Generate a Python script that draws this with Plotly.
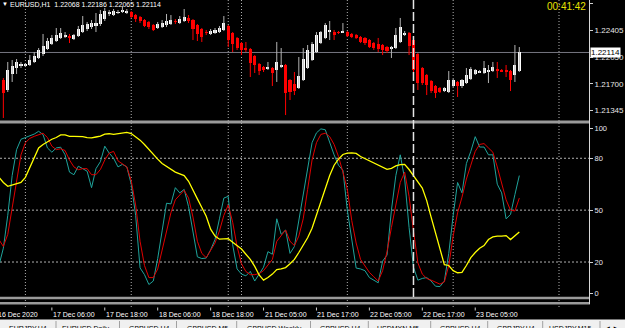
import plotly.graph_objects as go

W, H = 625, 328

# ---------------- data (H1 bars, index 0 = 17 Dec 2020 00:00, weekend skipped) ----------------
BAR_INDEX = list(range(-5, 113))
OPEN = [1.21749, 1.21617, 1.21829, 1.21908, 1.21935, 1.21935, 1.21948, 1.21988, 1.22041, 1.22094,
        1.22160, 1.22226, 1.22266, 1.22306, 1.22319, 1.22332, 1.22292, 1.22332, 1.22385, 1.22425,
        1.22451, 1.22465, 1.22491, 1.22557, 1.22624, 1.22610, 1.22637, 1.22650, 1.22637, 1.22650,
        1.22610, 1.22584, 1.22544, 1.22518, 1.22478, 1.22438, 1.22451, 1.22478, 1.22491, 1.22531,
        1.22504, 1.22531, 1.22571, 1.22544, 1.22478, 1.22425, 1.22385, 1.22359, 1.22372, 1.22385,
        1.22412, 1.22465, 1.22372, 1.22306, 1.22239, 1.22173, 1.22160, 1.22067, 1.21961, 1.21921,
        1.21895, 1.21908, 1.21882, 1.21921, 1.21948, 1.21749, 1.21696, 1.21643, 1.21749, 1.21908,
        1.22014, 1.22120, 1.22239, 1.22306, 1.22385, 1.22385, 1.22385, 1.22385, 1.22385, 1.22359,
        1.22345, 1.22319, 1.22306, 1.22279, 1.22239, 1.22226, 1.22213, 1.22186, 1.22160, 1.22173,
        1.22253, 1.22345, 1.22372, 1.22279, 1.22094, 1.21908, 1.21815, 1.21736, 1.21670, 1.21643,
        1.21603, 1.21590, 1.21670, 1.21723, 1.21670, 1.21709, 1.21762, 1.21829, 1.21855, 1.21842,
        1.21855, 1.21868, 1.21895, 1.21882, 1.21882, 1.21868, 1.21815, 1.21868]
HIGH = [1.21776, 1.21988, 1.22014, 1.22027, 1.21988, 1.21974, 1.22080, 1.22120, 1.22173, 1.22359,
        1.22306, 1.22345, 1.22438, 1.22438, 1.22385, 1.22359, 1.22359, 1.22465, 1.22597, 1.22518,
        1.22544, 1.22637, 1.22677, 1.22703, 1.22677, 1.22690, 1.22677, 1.22730, 1.22690, 1.22663,
        1.22624, 1.22597, 1.22557, 1.22531, 1.22491, 1.22518, 1.22544, 1.22624, 1.22610, 1.22557,
        1.22597, 1.22690, 1.22610, 1.22557, 1.22491, 1.22438, 1.22412, 1.22425, 1.22438, 1.22465,
        1.22597, 1.22478, 1.22385, 1.22319, 1.22253, 1.22253, 1.22173, 1.22080, 1.21974, 1.21935,
        1.21988, 1.21921, 1.22253, 1.22173, 1.21961, 1.21762, 1.21855, 1.22054, 1.22173, 1.22213,
        1.22253, 1.22385, 1.22398, 1.22504, 1.22531, 1.22412, 1.22398, 1.22504, 1.22398, 1.22372,
        1.22359, 1.22332, 1.22319, 1.22292, 1.22253, 1.22306, 1.22226, 1.22200, 1.22200, 1.22438,
        1.22571, 1.22398, 1.22385, 1.22319, 1.22107, 1.21921, 1.21829, 1.21749, 1.21683, 1.21656,
        1.21656, 1.21868, 1.21762, 1.21736, 1.21762, 1.21908, 1.21921, 1.21895, 1.21882, 1.22001,
        1.21948, 1.21988, 1.21988, 1.21895, 1.21948, 1.21882, 1.22213, 1.22186]
LOW = [1.21246, 1.21590, 1.21723, 1.21829, 1.21908, 1.21921, 1.21935, 1.21974, 1.22027, 1.22067,
       1.22147, 1.22213, 1.22253, 1.22292, 1.22306, 1.22239, 1.22279, 1.22319, 1.22372, 1.22398,
       1.22425, 1.22385, 1.22465, 1.22531, 1.22597, 1.22597, 1.22624, 1.22637, 1.22624, 1.22571,
       1.22518, 1.22504, 1.22451, 1.22425, 1.22398, 1.22425, 1.22438, 1.22451, 1.22478, 1.22491,
       1.22491, 1.22518, 1.22504, 1.22279, 1.22266, 1.22253, 1.22345, 1.22345, 1.22359, 1.22372,
       1.22398, 1.22186, 1.22120, 1.22147, 1.22080, 1.22120, 1.21789, 1.21842, 1.21815, 1.21855,
       1.21882, 1.21670, 1.21723, 1.21908, 1.21285, 1.21484, 1.21550, 1.21630, 1.21736, 1.21895,
       1.22001, 1.22107, 1.22226, 1.22292, 1.22279, 1.22279, 1.22359, 1.22372, 1.22319, 1.22306,
       1.22292, 1.22239, 1.22213, 1.22173, 1.22147, 1.22120, 1.22080, 1.22107, 1.22041, 1.22160,
       1.22239, 1.22332, 1.22080, 1.21815, 1.21617, 1.21683, 1.21550, 1.21577, 1.21511, 1.21577,
       1.21590, 1.21577, 1.21656, 1.21524, 1.21643, 1.21696, 1.21749, 1.21815, 1.21842, 1.21829,
       1.21709, 1.21855, 1.21776, 1.21855, 1.21789, 1.21603, 1.21723, 1.21855]
CLOSE = [1.21577, 1.21882, 1.21935, 1.21988, 1.21961, 1.21961, 1.22014, 1.22067, 1.22147, 1.22200,
         1.22266, 1.22306, 1.22345, 1.22372, 1.22345, 1.22306, 1.22345, 1.22425, 1.22478, 1.22491,
         1.22504, 1.22504, 1.22624, 1.22663, 1.22650, 1.22663, 1.22650, 1.22677, 1.22663, 1.22584,
         1.22557, 1.22531, 1.22465, 1.22451, 1.22412, 1.22491, 1.22504, 1.22531, 1.22544, 1.22518,
         1.22557, 1.22584, 1.22531, 1.22425, 1.22359, 1.22319, 1.22372, 1.22398, 1.22412, 1.22438,
         1.22504, 1.22279, 1.22226, 1.22173, 1.22147, 1.22147, 1.21974, 1.21948, 1.21868, 1.21882,
         1.21921, 1.21842, 1.21988, 1.21948, 1.21577, 1.21590, 1.21603, 1.21802, 1.22027, 1.22147,
         1.22226, 1.22345, 1.22385, 1.22478, 1.22412, 1.22345, 1.22372, 1.22398, 1.22332, 1.22319,
         1.22306, 1.22253, 1.22239, 1.22186, 1.22173, 1.22160, 1.22147, 1.22133, 1.22186, 1.22345,
         1.22451, 1.22372, 1.22200, 1.21882, 1.21709, 1.21709, 1.21683, 1.21603, 1.21577, 1.21590,
         1.21643, 1.21749, 1.21749, 1.21670, 1.21749, 1.21815, 1.21895, 1.21882, 1.21868, 1.21908,
         1.21882, 1.21921, 1.21868, 1.21868, 1.21868, 1.21749, 1.21948, 1.22114]

OSC_BARS = list(range(-6, 113))
STOCH_MAIN = [18, 28, 47, 70, 85, 91, 92, 93, 94, 95.6, 93.7, 86, 83.5, 86, 86.4, 82, 72, 70.5, 75.4, 74,
              72.5, 63, 74, 78, 87, 83, 80, 75, 76.5, 75, 65, 47, 16.6, 12.7, 7, 9, 22, 38, 54, 53.6,
              63, 60, 62, 52, 38, 23, 22, 22.3, 27, 33, 45, 57, 58, 30, 16, 13, 12, 14.6, 9, 13,
              17, 26, 24.5, 45, 36, 38.5, 25, 29, 44, 60, 74, 89, 94.7, 97, 96.5, 89, 82, 76, 73, 50,
              32, 16.5, 16, 15, 11, 9.5, 8, 20.5, 24, 50, 70, 82, 68, 40, 17, 9.5, 10.5, 11, 9, 6,
              5.8, 9, 25, 47, 66, 60, 77, 84, 92.5, 86.5, 86.5, 82, 82, 65, 60, 45, 47.5, 59, 70]
STOCH_SIGNAL = [33, 29, 36, 51, 68, 82, 89, 91.5, 92.7, 93.5, 94.5, 92, 87, 85, 85.5, 84.5, 79, 75, 73.4, 74,
                74, 70.5, 70.5, 73.5, 79, 83, 84, 78.5, 77, 75, 67, 53, 32, 18, 11, 11, 16, 27, 38, 48.5,
                56, 59, 61.5, 57, 46, 32, 25, 22.5, 27, 31, 38, 47, 53, 43, 29, 19, 14.5, 12.7, 12.7, 13.3,
                15, 18, 21.5, 32, 35.5, 38.5, 32, 29.5, 35, 45, 62, 79, 89, 93.8, 94.5, 92.5, 88, 81, 72, 62,
                44, 31, 21.5, 17.5, 14, 11.5, 9, 15, 26, 40, 54, 66, 72, 58, 38, 19.5, 13, 10.5, 9.5, 8.2,
                7.2, 8.5, 18, 35, 48.5, 57.5, 68, 76, 84, 88, 88.5, 86, 83.5, 75, 65, 56, 50, 49.5, 57]
STOCH_SLOW = [69, 66, 63.8, 64.5, 65, 66, 69, 74.5, 80.5, 86, 88, 89.5, 91, 92, 93.5, 93.5, 92.7, 92.7, 92.7, 92.5,
              92, 91.8, 92.3, 92.8, 94, 94.2, 93.8, 94.2, 94.6, 95, 94.3, 92.5, 90.5, 88, 85, 82, 79.5, 77, 75.3, 73.8,
              72, 71, 70, 66.7, 62, 56.5, 51.5, 46.5, 39, 35, 33.2, 33.5, 33.5, 31.5, 29.5, 27.5, 24.5, 21.5, 17.5, 12.5,
              9.5, 11, 13, 15.6, 16, 16.8, 19, 21.5, 25.5, 29.5, 34, 39.5, 47, 55, 63.3, 70, 76, 79.5, 82.2, 83,
              83.1, 82.8, 81, 79.7, 78.5, 77.3, 76, 74.8, 73.6, 74.2, 75.6, 76.3, 76.5, 73.5, 69.5, 66.3, 62.8, 55.5, 46, 37,
              27, 18.5, 18, 15, 13.8, 14, 18, 22.5, 25.5, 28, 29.5, 33, 34.5, 35, 35, 35.3, 33, 35.5, 37.4]

PRICE_TICKS = [1.22760, 1.22405, 1.22050, 1.21700, 1.21345]
OSC_LEVELS = [20, 50, 80]
OSC_TICK_LABELS = ["0", "20", "50", "80", "100"]
DAY_START_BARS = [0, 24, 46, 49, 73, 97, 121]
FIRST_LABEL = "16 Dec 2020"
TIME_LABEL_BARS = [6, 18, 30, 42, 54, 66, 78, 90, 102]
TIME_LABELS = ["17 Dec 06:00", "17 Dec 18:00", "18 Dec 06:00", "18 Dec 18:00",
               "21 Dec 05:00", "21 Dec 17:00", "22 Dec 05:00", "22 Dec 17:00", "23 Dec 05:00"]
MARKER_BAR = 88
BID = 1.22114
SYMBOL = "EURUSD,H1"
HEADER_OHLC = ["1.22068", "1.22186", "1.22065", "1.22114"]
TIMER = "00:41:42"
TABS = ["EURJPY,H4", "EURUSD,Daily", "GBPUSD,H4", "GBPUSD,M5", "GBPUSD,Weekly", "GBPUSD,H4",
        "USDMXN,M5", "GBPUSD,H4", "GBPJPY,H4", "USDJPY,M15"]

# ---------------- layout geometry (pixels) ----------------
X0_PX, BAR_PX, PLOT_RIGHT = 25.4, 4.41, 589
PRICE_TOP, PRICE_PER_PX = 1.2280923, 0.0001325
MAIN_BOTTOM_PX = 121
OSC_TOP_PX, OSC_BOTTOM_PX = 123.7, 296.6


def py(p):
    return 1 - p / H


def pxx(p):
    return p / W


x_range = [(0 - X0_PX) / BAR_PX, (PLOT_RIGHT - X0_PX) / BAR_PX]
y_range = [PRICE_TOP - MAIN_BOTTOM_PX * PRICE_PER_PX, PRICE_TOP]
osc_px_per_unit = (OSC_BOTTOM_PX - OSC_TOP_PX) / 100.0
osc_tickvals = [(OSC_BOTTOM_PX - 293) / osc_px_per_unit, 20, 50, 80, (OSC_BOTTOM_PX - 128) / osc_px_per_unit]

FONT = "Liberation Sans, Arial, sans-serif"
BULL, BEAR = "#ffffff", "#ff0000"
BULL_WICK = "#b4b4b4"

fig = go.Figure()

# wicks
for bull in (True, False):
    xs, ys = [], []
    for i, o, h, l, c in zip(BAR_INDEX, OPEN, HIGH, LOW, CLOSE):
        if (c >= o) == bull:
            xs += [i, i, None]
            ys += [l, h, None]
    fig.add_trace(go.Scatter(x=xs, y=ys, mode="lines", xaxis="x", yaxis="y",
                             line=dict(color=BULL_WICK if bull else BEAR, width=1),
                             hoverinfo="skip", showlegend=False))

# bodies
min_body = PRICE_PER_PX * 0.9
bases = [min(o, c) for o, c in zip(OPEN, CLOSE)]
heights = [max(abs(c - o), min_body) for o, c in zip(OPEN, CLOSE)]
colors = [BULL if c >= o else BEAR for o, c in zip(OPEN, CLOSE)]
fig.add_trace(go.Bar(x=BAR_INDEX, y=heights, base=bases, width=0.7, xaxis="x", yaxis="y",
                     marker=dict(color=colors, line=dict(width=0)), showlegend=False, hoverinfo="skip"))

# oscillator lines
fig.add_trace(go.Scatter(x=OSC_BARS, y=STOCH_MAIN, mode="lines", xaxis="x2", yaxis="y2",
                         line=dict(color="#1fa39b", width=1), showlegend=False))
fig.add_trace(go.Scatter(x=OSC_BARS, y=STOCH_SIGNAL, mode="lines", xaxis="x2", yaxis="y2",
                         line=dict(color="#e00000", width=1), showlegend=False))
fig.add_trace(go.Scatter(x=OSC_BARS, y=STOCH_SLOW, mode="lines", xaxis="x2", yaxis="y2",
                         line=dict(color="#ffff00", width=1.3), showlegend=False))

shapes = []
grid_col = "#b0b0b0"
for b in DAY_START_BARS:
    shapes.append(dict(type="line", xref="x", yref="paper", x0=b, x1=b, y0=py(307), y1=1,
                       line=dict(color=grid_col, width=1, dash="1px,2px"), layer="below"))
for lv in OSC_LEVELS:
    shapes.append(dict(type="line", xref="paper", yref="y2", x0=0, x1=pxx(PLOT_RIGHT), y0=lv, y1=lv,
                       line=dict(color=grid_col, width=1, dash="2px,2px"), layer="below"))
# bid line
shapes.append(dict(type="line", xref="paper", yref="y", x0=0, x1=pxx(PLOT_RIGHT), y0=BID, y1=BID,
                   line=dict(color="#767680", width=1), layer="below"))
# panel separators
for a, b in [(120.5, 123.5), (296.8, 299.2), (302.0, 304.4)]:
    shapes.append(dict(type="rect", xref="paper", yref="paper", x0=0, x1=pxx(PLOT_RIGHT),
                       y0=py(b), y1=py(a), fillcolor="#9a9a9a", line=dict(width=0), layer="above"))
# right border
shapes.append(dict(type="line", xref="paper", yref="paper", x0=pxx(PLOT_RIGHT + 0.5), x1=pxx(PLOT_RIGHT + 0.5),
                   y0=py(304.4), y1=1, line=dict(color="#d8d8d8", width=1), layer="above"))
# user vertical dashed line
shapes.append(dict(type="line", xref="x", yref="paper", x0=MARKER_BAR, x1=MARKER_BAR, y0=py(297), y1=1,
                   line=dict(color="#e6e6e6", width=1.5, dash="9px,3px"), layer="above"))
# time-axis tick marks
for b in TIME_LABEL_BARS:
    shapes.append(dict(type="line", xref="x2", yref="paper", x0=b, x1=b, y0=py(310.5), y1=py(307.5),
                       line=dict(color="#d0d0d0", width=1), layer="above"))
# tab bar
shapes.append(dict(type="rect", xref="paper", yref="paper", x0=0, x1=1, y0=py(330), y1=py(319.5),
                   fillcolor="#f0f0f0", line=dict(width=0), layer="above"))
TAB_SEP_PX = [56, 119.5, 176.5, 236.7, 310.5, 368.3, 430.7, 487.7, 542.7, 600]
for s in TAB_SEP_PX:
    shapes.append(dict(type="line", xref="paper", yref="paper", x0=pxx(s), x1=pxx(s), y0=py(330), y1=py(321),
                       line=dict(color="#a0a0a0", width=1), layer="above"))

annotations = []
annotations.append(dict(text="▼", x=pxx(0), y=py(4.2), xref="paper", yref="paper", xanchor="left",
                        yanchor="middle", showarrow=False, font=dict(size=6, color="#ffffff", family=FONT)))
annotations.append(dict(text=SYMBOL + "  " + " ".join(HEADER_OHLC), x=pxx(8), y=py(4.6), xref="paper",
                        yref="paper", xanchor="left", yanchor="middle", showarrow=False,
                        font=dict(size=7, color="#ffffff", family=FONT)))
annotations.append(dict(text=TIMER, x=pxx(544.5), y=py(6), xref="paper", yref="paper", xanchor="left",
                        yanchor="middle", showarrow=False, font=dict(size=10, color="#e8e000", family=FONT)))
annotations.append(dict(text=f"{BID:.5f}", x=pxx(590), y=BID, xref="paper", yref="y", xanchor="left",
                        yanchor="middle", showarrow=False, bgcolor="#ffffff", borderpad=0,
                        font=dict(size=8, color="#000000", family=FONT)))
annotations.append(dict(text=FIRST_LABEL, x=pxx(-4), y=py(314), xref="paper", yref="paper", xanchor="left",
                        yanchor="middle", showarrow=False, font=dict(size=7, color="#ffffff", family=FONT)))
for b, t in zip(TIME_LABEL_BARS, TIME_LABELS):
    annotations.append(dict(text=t, x=b, y=py(314), xref="x2", yref="paper", xanchor="left",
                            yanchor="middle", showarrow=False, xshift=-1,
                            font=dict(size=7, color="#ffffff", family=FONT)))
TAB_TEXT_PX = [6.7, 60, 127, 185, 245, 318.3, 375, 438, 495, 547]
for xpx, t in zip(TAB_TEXT_PX, TABS):
    annotations.append(dict(text=t, x=pxx(xpx), y=py(328.5), xref="paper", yref="paper", xanchor="left",
                            yanchor="middle", showarrow=False, font=dict(size=7, color="#000000", family=FONT)))
annotations.append(dict(text="◄ ►", x=pxx(603), y=py(328), xref="paper", yref="paper", xanchor="left",
                        yanchor="middle", showarrow=False, font=dict(size=6, color="#000000", family=FONT)))

axis_common = dict(showgrid=False, zeroline=False, showticklabels=False, ticks="", showline=False,
                   fixedrange=True)
fig.update_layout(
    width=W, height=H, margin=dict(l=0, r=0, t=0, b=0),
    paper_bgcolor="#000000", plot_bgcolor="rgba(0,0,0,0)",
    showlegend=False, bargap=0,
    xaxis=dict(domain=[0, pxx(PLOT_RIGHT)], range=x_range, anchor="y", rangeslider=dict(visible=False),
               **axis_common),
    xaxis2=dict(domain=[0, pxx(PLOT_RIGHT)], range=x_range, anchor="y2", matches="x", **axis_common),
    yaxis=dict(domain=[py(MAIN_BOTTOM_PX), 1], range=y_range, anchor="x", side="right",
               tickvals=PRICE_TICKS, ticktext=[f"{v:.5f}" for v in PRICE_TICKS],
               ticks="outside", ticklen=3, tickcolor="#d0d0d0", showgrid=False, zeroline=False,
               showline=False, automargin=False, fixedrange=True,
               tickfont=dict(size=8, color="#e6e6e6", family=FONT)),
    yaxis2=dict(domain=[py(OSC_BOTTOM_PX), py(OSC_TOP_PX)], range=[0, 100], anchor="x2", side="right",
                tickvals=osc_tickvals, ticktext=OSC_TICK_LABELS,
                ticks="outside", ticklen=3, tickcolor="#d0d0d0", showgrid=False, zeroline=False,
                showline=False, automargin=False, fixedrange=True,
                tickfont=dict(size=7.5, color="#e6e6f0", family=FONT)),
    shapes=shapes, annotations=annotations,
)

fig.write_html("out.html")
